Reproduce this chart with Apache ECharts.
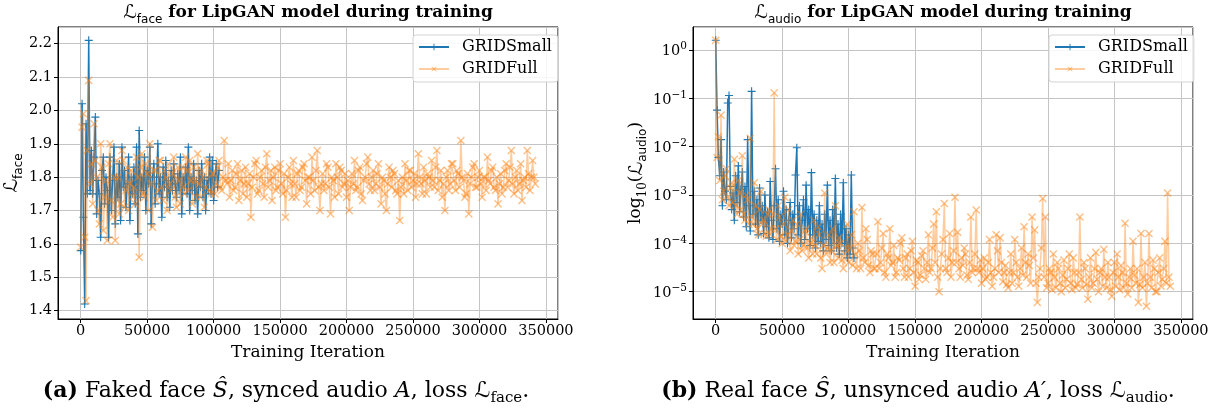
<!DOCTYPE html>
<html><head><meta charset="utf-8">
<script src="https://cdn.jsdelivr.net/npm/echarts@6/dist/echarts.min.js"></script>
<style>html,body{margin:0;padding:0;background:#fff}#c{width:1217px;height:411px}</style>
</head><body><div id="c"></div><script>
// logging interval (iterations between recorded points)
const SMALL_STEP = 1000;
const FULL_STEP = 1000;

// L_face, GRIDSmall (iter 0..104000)
const faceSmall = [1.58,2.02,1.68,1.42,1.96,1.75,2.21,1.76,1.88,1.75,
 1.86,1.98,1.69,1.79,1.75,1.62,1.82,1.86,1.72,1.80,
 1.76,1.62,1.86,1.70,1.79,1.89,1.66,1.80,1.74,1.84,
 1.67,1.89,1.77,1.82,1.71,1.78,1.86,1.67,1.80,1.75,
 1.83,1.72,1.89,1.63,1.94,1.74,1.80,1.76,1.86,1.70,
 1.82,1.78,1.89,1.66,1.80,1.84,1.72,1.78,1.90,1.75,
 1.80,1.68,1.83,1.77,1.85,1.74,1.79,1.71,1.82,1.76,
 1.84,1.78,1.74,1.81,1.76,1.86,1.69,1.80,1.77,1.83,
 1.75,1.89,1.70,1.80,1.76,1.84,1.73,1.79,1.69,1.82,
 1.77,1.84,1.74,1.80,1.70,1.79,1.76,1.86,1.75,1.85,
 1.73,1.80,1.84,1.77,1.82];

// L_face, GRIDFull (iter 0..342000)
const faceFull = [
 1.59,1.95,1.99,1.62,1.43,1.88,2.09,1.78,1.84,1.72,1.96,1.85,1.80,1.70,1.66,1.90,1.83,1.64,1.74,1.79,
 1.61,1.84,1.90,1.73,1.68,1.80,1.61,1.85,1.80,1.69,1.72,1.88,1.85,1.71,1.76,1.83,1.70,1.78,1.82,1.74,
 1.77,1.72,1.86,1.80,1.56,1.83,1.87,1.75,1.74,1.84,1.81,1.70,1.90,1.78,1.65,1.82,1.82,1.73,1.76,1.85,
 1.85,1.77,1.73,1.82,1.80,1.70,1.84,1.78,1.76,1.81,1.86,1.74,1.71,1.83,1.79,1.72,1.83,1.77,1.75,1.86,
 1.82,1.76,1.85,1.79,1.72,1.83,1.79,1.74,1.87,1.78,1.74,1.82,1.80,1.71,1.77,1.85,1.84,1.76,1.75,1.81,
 1.81,1.75,1.78,1.83,1.85,1.77,1.76,1.80,1.91,1.79,1.78,1.84,1.74,1.79,1.82,1.76,1.77,1.81,1.84,1.73,
 1.79,1.82,1.75,1.78,1.83,1.74,1.78,1.81,1.68,1.77,1.80,1.84,1.85,1.75,1.76,1.80,1.82,1.78,1.74,1.83,
 1.87,1.77,1.79,1.82,1.73,1.80,1.83,1.76,1.77,1.82,1.84,1.78,1.75,1.81,1.68,1.76,1.80,1.83,1.78,1.74,
 1.85,1.78,1.74,1.81,1.82,1.76,1.77,1.83,1.84,1.79,1.72,1.80,1.80,1.75,1.86,1.79,1.76,1.82,1.88,1.77,
 1.70,1.78,1.81,1.76,1.78,1.84,1.83,1.77,1.69,1.80,1.79,1.74,1.84,1.80,1.75,1.83,1.82,1.77,1.78,1.81,
 1.74,1.79,1.70,1.77,1.81,1.78,1.85,1.76,1.77,1.82,1.83,1.75,1.73,1.79,1.80,1.84,1.86,1.78,1.76,1.80,
 1.82,1.76,1.78,1.81,1.84,1.77,1.72,1.80,1.79,1.75,1.70,1.78,1.83,1.80,1.77,1.82,1.81,1.76,1.75,1.79,
 1.67,1.77,1.80,1.75,1.84,1.79,1.76,1.82,1.82,1.77,1.79,1.81,1.74,1.78,1.87,1.80,1.78,1.75,1.83,1.79,
 1.75,1.81,1.80,1.77,1.85,1.79,1.77,1.83,1.88,1.76,1.79,1.82,1.74,1.78,1.70,1.80,1.82,1.76,1.78,1.84,
 1.84,1.79,1.76,1.82,1.81,1.77,1.91,1.80,1.79,1.74,1.75,1.81,1.69,1.78,1.80,1.83,1.84,1.77,1.77,1.80,
 1.82,1.78,1.74,1.80,1.80,1.76,1.86,1.79,1.78,1.82,1.83,1.77,1.76,1.80,1.72,1.78,1.81,1.75,1.77,1.82,
 1.84,1.77,1.79,1.83,1.88,1.78,1.75,1.80,1.82,1.76,1.78,1.84,1.73,1.79,1.80,1.77,1.88,1.81,1.76,1.80,
 1.85,1.80,1.78];

// L_audio, GRIDSmall
const audioSmall = [1.6,0.057,6e-3,2.5e-3,1.4e-2,6e-4,3e-3,1.2e-3,8e-4,0.08,
 0.115,1.5e-3,5e-4,1.1e-3,3e-4,2.5e-3,7e-4,4e-3,4.5e-4,1.3e-3,
 3e-3,3.5e-4,1.5e-3,2.2e-4,0.014,6e-4,1.8e-4,0.14,4e-4,1.2e-3,
 2.5e-4,8e-4,1.5e-4,1.4e-3,3e-4,6e-4,1.6e-4,1e-3,2.2e-4,4.5e-4,
 1.3e-4,1.9e-3,3e-4,1.2e-4,6e-4,3.5e-3,2e-4,8e-4,1.1e-4,4e-4,
 2.5e-4,1.2e-3,1.5e-4,5e-4,1e-4,3e-4,7e-4,1.3e-4,4e-4,2e-4,
 2.6e-3,0.0095,1.5e-4,6e-4,1e-4,3e-4,8e-4,1.2e-4,1.6e-3,2e-4,
 5e-4,9e-5,2.9e-3,1.5e-4,4e-4,8e-5,3e-4,1.1e-4,6e-4,1e-4,
 2.5e-4,7e-5,4e-4,1.2e-4,1.6e-3,9e-5,3e-4,7e-5,5e-4,1e-4,
 2.2e-3,8e-5,2.5e-4,6e-5,4e-4,1e-4,1.8e-3,7e-5,2e-4,5e-5,
 1.5e-4,6e-5,2.6e-3,8e-5,5e-5];

// L_audio, GRIDFull
const audioFull = [
 1.6,6e-3,0.016,2e-3,0.045,8e-4,1.2e-3,2.5e-3,3.5e-3,9e-4,6e-4,1.4e-3,1.8e-3,7e-4,5.5e-3,6e-4,4e-4,2e-3,1.1e-3,5e-4,
 6.5e-3,4e-4,3e-4,1e-3,8e-4,2.5e-4,0.015,3.5e-4,2.5e-4,1.8e-3,6e-4,2e-4,1.5e-4,5e-4,1.2e-3,2.5e-4,3e-4,1.6e-4,1.4e-4,4e-4,
 5e-4,1.5e-4,2e-4,4e-4,0.13,2e-4,1.2e-4,6e-4,3.5e-4,1.4e-4,1e-4,2.5e-4,9e-4,1.1e-4,1.5e-4,5e-4,7e-5,1.8e-4,3e-4,9e-5,
 1.1e-4,2.5e-4,6e-5,1.2e-4,4e-4,7e-5,9e-5,1.8e-4,2e-4,8e-5,5e-5,1e-4,1.3e-4,6e-5,3e-4,9e-5,6e-5,2.2e-4,1.5e-4,5e-5,
 3e-5,9e-5,1.1e-3,6e-5,8e-5,1.5e-4,4e-5,7e-5,2e-4,4e-5,6e-4,9e-5,5e-5,1.3e-4,1e-4,4.5e-5,3e-5,6e-5,8e-5,2.5e-4,
 4e-5,8e-5,1.5e-4,3.5e-5,4.5e-4,6e-5,3e-5,1e-4,7e-5,3e-5,5.5e-4,5e-5,4e-5,2e-4,1.2e-4,3.5e-5,2.5e-5,7e-5,6e-5,3e-5,
 3e-5,6e-5,2.8e-4,3e-5,4e-5,8e-5,1.6e-4,2.5e-5,2e-5,6e-5,5e-5,2e-4,3.5e-5,4e-5,9e-5,2e-5,2.5e-5,5e-5,4.5e-5,1e-4,
 1.3e-4,3e-5,2e-5,5e-5,6e-5,2e-5,3e-5,7e-5,1.1e-4,2.5e-5,1.3e-5,4.5e-5,4e-5,1.8e-5,2.2e-5,5.5e-5,7e-5,3e-5,1.8e-5,4e-5,
 1.5e-4,2.5e-5,3e-5,8e-5,2.5e-4,4e-5,4.5e-4,2e-5,1e-5,3e-5,6e-5,1.2e-4,6.7e-4,3e-5,2.5e-5,5e-5,1.6e-4,2e-5,4e-5,7e-5,
 9e-4,4e-5,1.7e-4,3e-5,2e-5,5e-5,3.5e-5,8e-5,6e-5,2.2e-5,1.8e-5,4e-5,3.5e-4,2.5e-5,3e-5,6e-5,4.9e-4,3e-5,2.5e-5,4.5e-5,
 1.5e-5,3e-5,5e-5,1.8e-5,2e-5,4e-5,1.2e-4,2.5e-5,1.3e-5,2e-5,3e-5,1.5e-4,7e-5,2.5e-5,1.3e-4,4e-5,1.6e-5,2.5e-5,3.5e-5,1.4e-5,
 1.2e-5,2.5e-5,6e-5,1.5e-5,2.5e-5,1.2e-4,4e-5,2e-5,1.3e-5,3e-5,8e-5,2.2e-5,2.2e-4,4e-5,2e-5,6e-5,3.5e-5,1.5e-5,3.5e-4,5e-5,
 1.9e-4,1.5e-5,6e-6,2e-5,3e-5,8e-5,8.5e-4,2e-5,3.5e-4,1.2e-5,1.5e-5,3e-5,2.5e-5,1.1e-5,6e-5,2e-5,1.2e-5,4e-5,3e-5,1.5e-5,
 1e-5,2.2e-5,4.5e-5,1.2e-5,1.8e-5,3e-5,6e-5,1.5e-5,1.1e-5,5e-5,2.5e-5,1.2e-5,1.4e-5,2.5e-5,3.5e-4,1.8e-5,1.2e-5,4e-5,3e-5,1.4e-5,
 7e-6,2e-5,5e-5,1.2e-5,1.5e-5,3e-5,6.5e-5,1.8e-5,1e-5,2.5e-5,3e-5,1.3e-5,7.5e-5,2e-5,1.2e-5,4e-5,2e-5,1.1e-5,8e-6,2.5e-5,
 4e-5,1.3e-5,6e-5,2e-5,1.1e-5,3.5e-5,2.5e-5,1.2e-5,2.6e-4,1.5e-5,9e-6,2e-5,3e-5,1.2e-5,1.1e-4,2.2e-5,1.5e-5,3e-5,6e-6,1.4e-5,
 1.6e-4,1.2e-5,2e-5,4e-5,5e-6,1.5e-5,1.6e-4,2e-5,1.2e-5,4.5e-5,3e-5,1e-5,1e-5,2.5e-5,5e-5,1.3e-5,1.8e-5,3e-5,1.1e-4,1.5e-5,
 1.1e-3,2e-5,1.3e-5];

// tick labels
const xTickValues = [0,50000,100000,150000,200000,250000,300000,350000];
const faceTickValues = [1.4,1.5,1.6,1.7,1.8,1.9,2.0,2.1,2.2];
const audioTickExponents = [-5,-4,-3,-2,-1,0];

const seriesNames = ['GRIDSmall','GRIDFull'];
const BLUE = '#1f77b4', ORANGE = '#ff7f0e';
const SERIF = 'DejaVu Serif';
const PLUS = 'path://M4.3,0H5.7V4.3H10V5.7H5.7V10H4.3V5.7H0V4.3H4.3Z';

function pairs(vals, step){ return vals.map((v,i)=>[i*step, v]); }

const GRIDS = [
  {left:58, top:27, width:500, height:292},
  {left:693, top:27, width:500, height:292}
];

function mkSeries(name, idx, data, isFull){
  return {
    name, type:'line', xAxisIndex:idx, yAxisIndex:idx, data,
    symbol: PLUS, symbolSize: isFull ? 10 : 8, symbolRotate: isFull ? 45 : 0,
    showAllSymbol: true, silent: true, z: isFull ? 3 : 2,
    lineStyle: {color: isFull ? ORANGE : BLUE, width: 1.5, opacity: isFull ? 0.4 : 1},
    itemStyle: {color: isFull ? ORANGE : BLUE, opacity: isFull ? 0.5 : 1},
    emphasis: {disabled: true}
  };
}

const tickLabelStyle = {color:'#000', fontFamily:SERIF, fontSize:14.5};
const nameL = {fontFamily:'DejaVu Sans', fontSize:19, lineHeight:22, verticalAlign:'top', color:'#000'};
const subSans = {fontFamily:'DejaVu Sans', fontSize:12, lineHeight:12, verticalAlign:'bottom', color:'#000'};

function xAxis(i){
  return {
    gridIndex:i, type:'value', min:-17100, max:359100, splitNumber:7,
    axisLine:{show:true, onZero:false, lineStyle:{color:'#000', width:1}},
    axisTick:{show:true, length:4, lineStyle:{color:'#000'}},
    axisLabel:Object.assign({showMinLabel:false, showMaxLabel:false, margin:5,
      formatter: v => xTickValues.includes(v) ? String(v) : ''}, tickLabelStyle),
    splitLine:{show:true, lineStyle:{color:'#c4c4c4', width:1}},
    name:'Training Iteration', nameLocation:'middle', nameGap:21,
    nameTextStyle:{fontFamily:SERIF, fontSize:17, color:'#000'}
  };
}

const CAP = 22;
const capRich = {
  bd:{fontFamily:SERIF, fontWeight:'bold', fontSize:CAP, lineHeight:26, verticalAlign:'top', fill:'#000'},
  r:{fontFamily:SERIF, fontSize:CAP, lineHeight:26, verticalAlign:'top', fill:'#000'},
  i:{fontFamily:SERIF, fontStyle:'italic', fontSize:CAP, lineHeight:26, verticalAlign:'top', fill:'#000'},
  L:{fontFamily:'DejaVu Sans', fontSize:CAP, lineHeight:26, verticalAlign:'top', fill:'#000'},
  s:{fontFamily:SERIF, fontSize:15, lineHeight:15, verticalAlign:'bottom', fill:'#000'}
};
const titleRich = {L:nameL, s:subSans,
  b:{fontFamily:SERIF, fontWeight:'bold', fontSize:17, lineHeight:22, verticalAlign:'top', fill:'#000'}};

const option = {
  animation:false,
  backgroundColor:'#fff',
  grid: GRIDS.map(g => Object.assign({show:true, borderColor:'#000', borderWidth:1, backgroundColor:'transparent', containLabel:false}, g)),
  xAxis:[xAxis(0), xAxis(1)],
  yAxis:[
    {gridIndex:0, type:'value', min:1.375, max:2.25, splitNumber:9,
     axisLine:{show:true, onZero:false, lineStyle:{color:'#000'}},
     axisTick:{show:true, length:4, lineStyle:{color:'#000'}},
     axisLabel:Object.assign({showMinLabel:false, showMaxLabel:false, margin:6,
       formatter: v => faceTickValues.some(t => Math.abs(t - v) < 1e-6) ? v.toFixed(1) : ''}, tickLabelStyle),
     splitLine:{show:true, lineStyle:{color:'#c4c4c4', width:1}},
     name:'{L|ℒ}{s|face}', nameLocation:'middle', nameRotate:90, nameGap:31,
     nameTextStyle:{rich:{L:nameL, s:subSans}}},
    {gridIndex:1, type:'log', logBase:10, min:2.72e-6, max:3, splitNumber:6,
     axisLine:{show:true, onZero:false, lineStyle:{color:'#000'}},
     axisTick:{show:true, length:4, lineStyle:{color:'#000'}},
     axisLabel:{showMinLabel:false, showMaxLabel:false, margin:6, color:'#000',
       formatter: v => {
         const l = Math.log10(v), e = Math.round(l);
         if (Math.abs(l - e) > 1e-6 || !audioTickExponents.includes(e)) return '';
         return '{b|10}{s|' + (e < 0 ? '\u2212' + (-e) : String(e)) + '}';
       },
       rich:{
         b:{fontFamily:SERIF, fontSize:14.5, lineHeight:18, verticalAlign:'bottom', color:'#000'},
         s:{fontFamily:SERIF, fontSize:10.5, lineHeight:8, verticalAlign:'top', color:'#000'}
       }},
     splitLine:{show:true, lineStyle:{color:'#c4c4c4', width:1}},
     name:'{n|log}{s|10}{n|(}{L|ℒ}{a|audio}{n|)}', nameLocation:'middle', nameRotate:90, nameGap:40,
     nameTextStyle:{rich:{
       n:{fontFamily:SERIF, fontSize:17, lineHeight:22, verticalAlign:'top', color:'#000'},
       s:{fontFamily:SERIF, fontSize:12, lineHeight:12, verticalAlign:'bottom', color:'#000'},
       L:nameL, a:subSans}}}
  ],
  legend: [
    {left:413, top:35}, {left:1049, top:35}
  ].map(p => Object.assign({
    data: seriesNames, orient:'vertical', itemWidth:30, itemHeight:8, itemGap:4,
    padding:[3,6,4,5], backgroundColor:'rgba(255,255,255,0.85)', borderColor:'#d4d4d4',
    borderWidth:1, borderRadius:3, selectedMode:false,
    textStyle:{fontFamily:SERIF, fontSize:16, lineHeight:18, color:'#000', padding:[0,0,0,8]}
  }, p)),
  series:[
    mkSeries('GRIDSmall', 0, pairs(faceSmall, SMALL_STEP), false),
    mkSeries('GRIDFull', 0, pairs(faceFull, FULL_STEP), true),
    mkSeries('GRIDSmall', 1, pairs(audioSmall, SMALL_STEP), false),
    mkSeries('GRIDFull', 1, pairs(audioFull, FULL_STEP), true)
  ],
  graphic:[
    {type:'text', x:308, y:15, silent:true, style:{
      text:'{L|ℒ}{s|face}{b| for LipGAN model during training}', align:'center', verticalAlign:'middle', rich:titleRich}},
    {type:'text', x:943, y:15, silent:true, style:{
      text:'{L|ℒ}{s|audio}{b| for LipGAN model during training}', align:'center', verticalAlign:'middle', rich:titleRich}},
    {type:'text', x:286, y:393, silent:true, style:{
      text:'{bd|(a)}{r| Faked face }{i|Ŝ}{r|, synced audio }{i|A}{r|, loss }{L|ℒ}{s|face}{r|.}',
      align:'center', verticalAlign:'middle', rich:capRich}},
    {type:'text', x:918, y:393, silent:true, style:{
      text:'{bd|(b)}{r| Real face }{i|Ŝ}{r|, unsynced audio }{i|A′}{r|, loss }{L|ℒ}{s|audio}{r|.}',
      align:'center', verticalAlign:'middle', rich:capRich}}
  ]
};

const chart = echarts.init(document.getElementById('c'), null, {renderer:'canvas'});
chart.setOption(option);
</script></body></html>
